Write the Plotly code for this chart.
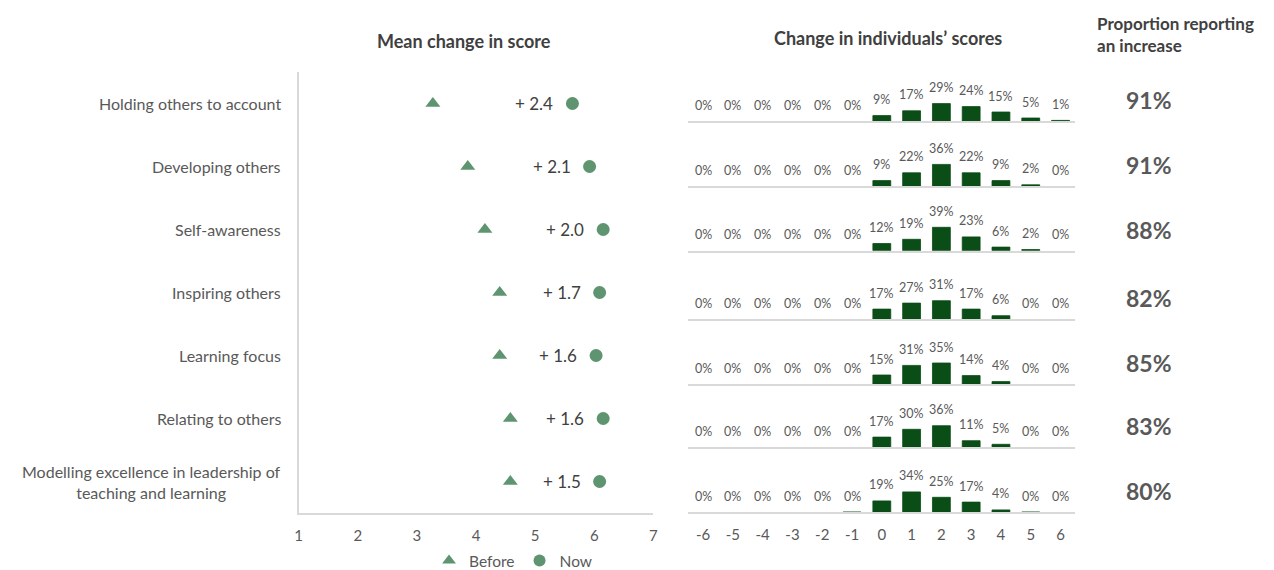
import plotly.graph_objects as go

W, H = 1274, 570
OFF = 8  # default page body margin

# ---------------- data ----------------
categories = [
    "Holding others to account",
    "Developing others",
    "Self-awareness",
    "Inspiring others",
    "Learning focus",
    "Relating to others",
    "Modelling excellence in leadership of<br>teaching and learning",
]
before = [3.27, 3.86, 4.15, 4.40, 4.40, 4.58, 4.58]
now = [5.63, 5.92, 6.15, 6.09, 6.03, 6.15, 6.09]
mean_change = [2.4, 2.1, 2.0, 1.7, 1.6, 1.6, 1.5]

score_change = [-6, -5, -4, -3, -2, -1, 0, 1, 2, 3, 4, 5, 6]
score_labels = ["-6", "-5", "-4", "-3", "-2", "-1", "0", "1", "2", "3", "4", "5", "6"]
dist_holding = [0, 0, 0, 0, 0, 0, 9, 17, 29, 24, 15, 5, 1]
dist_developing = [0, 0, 0, 0, 0, 0, 9, 22, 36, 22, 9, 2, 0]
dist_selfaware = [0, 0, 0, 0, 0, 0, 12, 19, 39, 23, 6, 2, 0]
dist_inspiring = [0, 0, 0, 0, 0, 0, 17, 27, 31, 17, 6, 0, 0]
dist_learning = [0, 0, 0, 0, 0, 0, 15, 31, 35, 14, 4, 0, 0]
dist_relating = [0, 0, 0, 0, 0, 0, 17, 30, 36, 11, 5, 0, 0]
dist_modelling = [0, 0, 0, 0, 0, 0.4, 19, 34, 25, 17, 4, 0.4, 0]
distributions = [dist_holding, dist_developing, dist_selfaware, dist_inspiring,
                 dist_learning, dist_relating, dist_modelling]

proportion_increase = [91, 91, 88, 82, 85, 83, 80]

# ---------------- style ----------------
FONT = "Lato"
GREEN = "#5e9470"
DARK = "#0b4d17"
TXT = "#595959"
TITLE = "#404040"
AXIS = "#d9d9d9"


def px(x):
    return (x - OFF) / W


def py(y):
    return 1 - (y - OFF) / H


fig = go.Figure()

# ---- left: before / now markers ----
fig.add_trace(go.Scatter(
    x=before, y=categories, mode="markers", name="Before",
    marker=dict(symbol="triangle-up", size=13, color=GREEN),
    xaxis="x", yaxis="y",
))
fig.add_trace(go.Scatter(
    x=now, y=categories, mode="markers", name="Now",
    marker=dict(symbol="circle", size=13, color=GREEN),
    xaxis="x", yaxis="y",
))

annotations = []
for c, n, d in zip(categories, now, mean_change):
    annotations.append(dict(
        x=n, y=c, xref="x", yref="y", text=f"+ {d:.1f}", showarrow=False,
        xanchor="right", yanchor="middle", xshift=-17,
        font=dict(family=FONT, size=17, color=TITLE),
    ))
for c in categories:
    annotations.append(dict(
        x=px(281), y=c, xref="paper", yref="y", text=c, showarrow=False,
        xanchor="right", yanchor="middle", align="center",
        font=dict(family=FONT, size=16, color=TXT),
    ))

layout = dict(
    width=W, height=H,
    margin=dict(l=0, r=0, t=0, b=0),
    paper_bgcolor="white", plot_bgcolor="white",
    font=dict(family=FONT, color=TXT),
    showlegend=True,
    legend=dict(
        orientation="h", x=px(428), y=py(561), xanchor="left", yanchor="middle",
        font=dict(family=FONT, size=15.5, color=TXT), itemsizing="constant",
        bgcolor="rgba(0,0,0,0)",
    ),
    xaxis=dict(
        domain=[px(296.7), px(654)], range=[1, 7], anchor="y",
        tickvals=[1, 2, 3, 4, 5, 6, 7], showgrid=False, zeroline=False,
        showline=True, linecolor=AXIS, linewidth=1.5, ticks="",
        ticklabelstandoff=8,
        tickfont=dict(family=FONT, size=15, color=TXT),
    ),
    yaxis=dict(
        domain=[py(513), py(72)], anchor="x", type="category",
        categoryorder="array", categoryarray=categories,
        range=[6.5, -0.5], showgrid=False, zeroline=False,
        showline=True, linecolor=AXIS, linewidth=1.5, showticklabels=False,
        ticks="",
    ),
)

# ---- middle: small-multiple bar charts ----
baselines = [121, 186, 250.7, 319.3, 384, 447.3, 512.3]
panel_h = 45
y_max = panel_h / 0.6
for i, (dist, b) in enumerate(zip(distributions, baselines)):
    k = i + 2
    xa, ya = f"x{k}", f"y{k}"
    fig.add_trace(go.Bar(
        x=score_change, y=dist, xaxis=xa, yaxis=ya, showlegend=False,
        marker=dict(color=DARK,
                    line=dict(color=DARK, width=[0.8 if v > 0 else 0 for v in dist])),
        width=0.6,
    ))
    last = i == len(distributions) - 1
    layout[f"xaxis{k}"] = dict(
        domain=[px(689), px(1079)], range=[-6.5, 6.5], anchor=ya,
        tickvals=score_change, ticktext=score_labels, showticklabels=last,
        showgrid=False, zeroline=False, showline=True, linecolor=AXIS,
        linewidth=1.5, ticks="", ticklabelstandoff=8,
        tickfont=dict(family=FONT, size=15, color=TXT),
    )
    layout[f"yaxis{k}"] = dict(
        domain=[py(b), py(b - panel_h)], range=[0, y_max], anchor=xa,
        visible=False, showgrid=False, zeroline=False,
    )
    for sx, v in zip(score_change, dist):
        annotations.append(dict(
            x=sx, y=v, xref=xa, yref=ya, text=f"{v:.0f}%", showarrow=False,
            xanchor="center", yanchor="middle", yshift=16,
            font=dict(family=FONT, size=12.5, color=TXT),
        ))
    # right column: proportion reporting an increase
    annotations.append(dict(
        x=px(1153), y=py(b - 21), xref="paper", yref="paper",
        text=f"<b>{proportion_increase[i]}%</b>", showarrow=False,
        xanchor="center", yanchor="middle",
        font=dict(family=FONT, size=23, color=TXT),
    ))

# ---- titles ----
annotations += [
    dict(x=px(463), y=py(41), xref="paper", yref="paper",
         text="<b>Mean change in score</b>", showarrow=False,
         xanchor="center", yanchor="middle",
         font=dict(family=FONT, size=18, color=TITLE)),
    dict(x=px(890), y=py(38), xref="paper", yref="paper",
         text="<b>Change in individuals\u2019 scores</b>", showarrow=False,
         xanchor="center", yanchor="middle",
         font=dict(family=FONT, size=18, color=TITLE)),
    dict(x=px(1099), y=py(34), xref="paper", yref="paper",
         text="<b>Proportion reporting<br>an increase</b>", showarrow=False,
         xanchor="left", yanchor="middle", align="left",
         font=dict(family=FONT, size=17, color=TITLE)),
]

layout["annotations"] = annotations
fig.update_layout(**layout)
fig.write_html("out.html")
